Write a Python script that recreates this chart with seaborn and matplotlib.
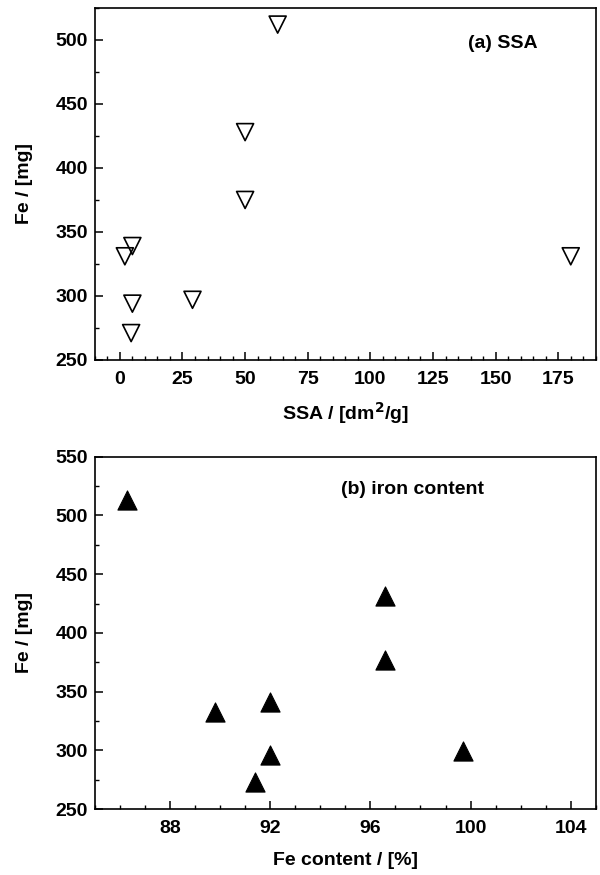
import matplotlib
matplotlib.use("Agg")
import matplotlib.pyplot as plt
import seaborn as sns
from matplotlib.ticker import MultipleLocator

sns.set_theme(style="white")
plt.rcParams['font.family'] = ['Liberation Sans', 'DejaVu Sans']
plt.rcParams['font.weight'] = 'bold'
plt.rcParams['text.color'] = 'black'
plt.rcParams['axes.labelcolor'] = 'black'
plt.rcParams['xtick.color'] = 'black'
plt.rcParams['ytick.color'] = 'black'
plt.rcParams['mathtext.default'] = 'bf'

# (a) SSA panel
ssa = [63, 50, 50, 5, 2, 5, 4.5, 29, 180]
fe_a = [512, 428, 375, 339, 331, 294, 271, 297, 331]

# (b) iron content panel
fe_content = [86.3, 89.8, 92.0, 92.0, 91.4, 96.6, 96.6, 99.7]
fe_b = [513, 333, 341, 296, 273, 431, 377, 299]

fig = plt.figure(figsize=(6, 8.75), dpi=100)
ax1 = fig.add_axes([0.158, 0.5886, 0.835, 0.4023])
ax2 = fig.add_axes([0.158, 0.0754, 0.835, 0.4026])

sns.scatterplot(x=ssa, y=fe_a, ax=ax1, marker='v', s=150,
                facecolor='none', edgecolor='black', linewidth=1.2)
sns.scatterplot(x=fe_content, y=fe_b, ax=ax2, marker='^', s=190,
                color='black', edgecolor='black', linewidth=0.8)

fs = 14
for ax in (ax1, ax2):
    for sp in ax.spines.values():
        sp.set_visible(True)
        sp.set_color('black')
        sp.set_linewidth(1.2)
    ax.tick_params(axis='both', which='major', direction='in', length=6, width=1.1,
                   labelsize=fs, colors='black', bottom=True, left=True, top=False, right=False)
    ax.tick_params(axis='x', which='major', pad=8)
    ax.tick_params(axis='y', which='major', pad=5)
    ax.tick_params(axis='both', which='minor', direction='in', length=3, width=1.0,
                   bottom=True, left=True, top=False, right=False)

ax1.set_xlim(-10, 190)
ax1.set_ylim(250, 525)
ax1.xaxis.set_major_locator(MultipleLocator(25))
ax1.xaxis.set_minor_locator(MultipleLocator(5))
ax1.yaxis.set_major_locator(MultipleLocator(50))
ax1.yaxis.set_minor_locator(MultipleLocator(25))
ax1.set_xlabel('SSA / [dm$^2$/g]', fontsize=fs, fontweight='bold', labelpad=9)
ax1.set_ylabel('Fe / [mg]', fontsize=fs, fontweight='bold', labelpad=16)
ax1.text(0.815, 0.90, '(a) SSA', transform=ax1.transAxes, ha='center', va='center',
         fontsize=fs, fontweight='bold', color='black')

ax2.set_xlim(85, 105)
ax2.set_ylim(250, 550)
ax2.xaxis.set_major_locator(MultipleLocator(4))
ax2.xaxis.set_minor_locator(MultipleLocator(1))
ax2.yaxis.set_major_locator(MultipleLocator(50))
ax2.yaxis.set_minor_locator(MultipleLocator(25))
ax2.set_xlabel('Fe content / [%]', fontsize=fs, fontweight='bold', labelpad=11)
ax2.set_ylabel('Fe / [mg]', fontsize=fs, fontweight='bold', labelpad=16)
ax2.text(0.635, 0.906, '(b) iron content', transform=ax2.transAxes, ha='center', va='center',
         fontsize=fs, fontweight='bold', color='black')

for ax in (ax1, ax2):
    for lab in ax.get_xticklabels() + ax.get_yticklabels():
        lab.set_fontweight('bold')

fig.savefig('out.png', dpi=100, facecolor='white')
